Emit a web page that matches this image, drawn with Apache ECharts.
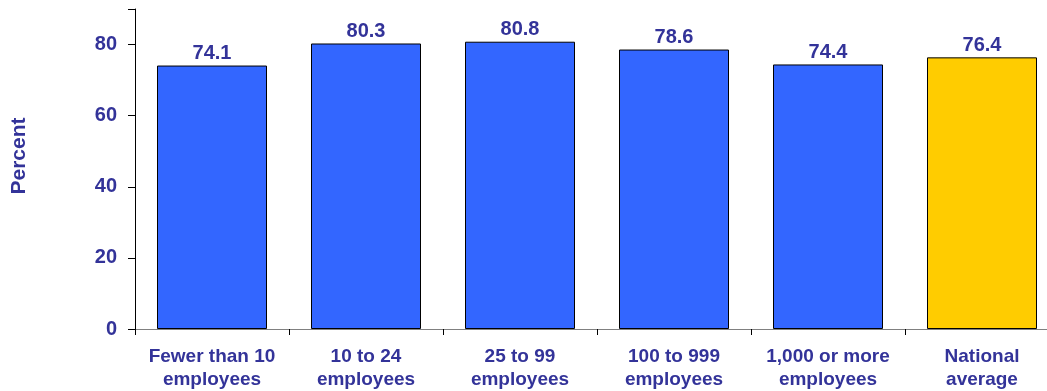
<!DOCTYPE html>
<html>
<head>
<meta charset="utf-8">
<script src="https://cdn.jsdelivr.net/npm/echarts@6/dist/echarts.min.js"></script>
<style>
  html, body { margin: 0; padding: 0; background: #fff; overflow: hidden; width: 1047px; height: 391px; }
  /* the last category runs a little past the right edge of the page */
  #chart { width: 1059px; height: 391px; }
</style>
</head>
<body>
<div id="chart"></div>
<script>
// Employment size categories and percentages
const categories = ['Fewer than 10\nemployees', '10 to 24\nemployees', '25 to 99\nemployees',
  '100 to 999\nemployees', '1,000 or more\nemployees', 'National\naverage'];
const values = [74.1, 80.3, 80.8, 78.6, 74.4, 76.4];
const barColors = ['#3366FF', '#3366FF', '#3366FF', '#3366FF', '#3366FF', '#FFCC00'];
const yTicks = [0, 20, 40, 60, 80];

const textColor = '#333399';
const fontFamily = '"Liberation Sans", Arial, sans-serif';

const chart = echarts.init(document.getElementById('chart'), null, { renderer: 'canvas' });
chart.setOption({
  animation: false,
  grid: { left: 135, top: 9, width: 924, height: 320, containLabel: false },
  xAxis: {
    type: 'category',
    data: categories,
    axisLine: { lineStyle: { color: '#808080', width: 1 } },
    axisTick: { show: true, alignWithLabel: false, length: 6, lineStyle: { color: '#000' } },
    axisLabel: {
      color: textColor, fontFamily, fontWeight: 'bold', fontSize: 19,
      lineHeight: 23, margin: 16, interval: 0
    }
  },
  yAxis: {
    type: 'value',
    min: 0, max: 90, interval: 20,
    splitLine: { show: false },
    axisLine: { show: true, lineStyle: { color: '#000', width: 1 } },
    axisTick: { show: true, length: 7, lineStyle: { color: '#000' } },
    axisLabel: {
      color: textColor, fontFamily, fontWeight: 'bold', fontSize: 20, margin: 18,
      formatter: v => (yTicks.includes(v) ? String(v) : '')
    }
  },
  graphic: [{
    type: 'text',
    x: 9, y: 156,
    rotation: Math.PI / 2,
    style: {
      text: 'Percent', fill: textColor, font: 'bold 21px "Liberation Sans", Arial, sans-serif',
      align: 'center', verticalAlign: 'top'
    }
  }],
  series: [{
    type: 'bar',
    data: values.map((v, i) => ({ value: v, itemStyle: { color: barColors[i] } })),
    barWidth: 110,
    itemStyle: { borderColor: '#000', borderWidth: 1 },
    label: {
      show: true, position: 'top', distance: 2,
      color: textColor, fontFamily, fontWeight: 'bold', fontSize: 20,
      formatter: p => p.value.toFixed(1)
    }
  }]
});
</script>
</body>
</html>
